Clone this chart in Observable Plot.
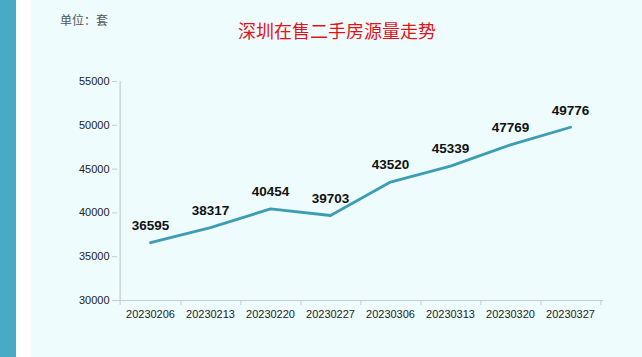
<!DOCTYPE html>
<html><head><meta charset="utf-8">
<script src="https://cdn.jsdelivr.net/npm/d3@7"></script>
<script src="https://cdn.jsdelivr.net/npm/@observablehq/plot@0.6"></script>
<style>
body{margin:0;width:642px;height:357px;overflow:hidden;background:#effcfd;position:relative;font-family:"Liberation Sans",Arial,sans-serif}
#bar{position:absolute;left:0;top:0;width:16px;height:357px;background:#48abc6}
#strip{position:absolute;left:16px;top:0;width:15px;height:357px;background:#ffffff}
#unit{position:absolute;left:60px;top:11px;font-size:12px;font-family:"Noto Sans CJK SC",sans-serif;color:#555}
#title{position:absolute;left:238px;top:17px;font-size:18px;font-family:"Noto Sans CJK SC",sans-serif;color:#e3131b;white-space:nowrap}
#chart{position:absolute;left:0;top:50px}
</style></head>
<body>
<div id="bar"></div><div id="strip"></div>
<div id="unit">单位：套</div>
<div id="title">深圳在售二手房源量走势</div>
<div id="chart"></div>
<script>
const categories = ["20230206","20230213","20230220","20230227","20230306","20230313","20230320","20230327"];
const values = [36595, 38317, 40454, 39703, 43520, 45339, 47769, 49776];
const yTicks = [30000, 35000, 40000, 45000, 50000, 55000];
const data = categories.map((c, i) => ({date: c, value: values[i]}));

const W = 642, H = 307, mL = 117, mR = 39;
const step = (W - mL - mR) / categories.length;
const axisColor = "#c4cccc";

const chart = Plot.plot({
  width: W, height: H,
  marginLeft: mL, marginRight: mR, marginTop: 31, marginBottom: 57,
  style: {background: "transparent", fontFamily: "'Liberation Sans', Arial, sans-serif", fontSize: "11px", color: "#222"},
  x: {type: "point", domain: categories, padding: 0.5, label: null},
  y: {domain: [30000, 55000], label: null},
  marks: [
    Plot.ruleY([30000], {stroke: axisColor, strokeWidth: 1.2}),
    Plot.ruleX([categories[0]], {dx: -step / 2, stroke: axisColor, strokeWidth: 1.2}),
    Plot.axisY({ticks: yTicks, tickSize: 5, tickPadding: 3, stroke: axisColor, tickFormat: d => String(d), fill: "#222"}),
    Plot.axisX({tickSize: 0, tickPadding: 10, fill: "#222"}),
    Plot.axisX(categories, {tickSize: 5, text: null, dx: step / 2, stroke: axisColor}),
    Plot.axisX([categories[0]], {tickSize: 5, text: null, dx: -step / 2, stroke: axisColor}),
    Plot.line(data, {x: "date", y: "value", stroke: "#3c9db3", strokeWidth: 2.8}),
    Plot.text(data, {x: "date", y: "value", text: d => String(d.value), dy: -17, fontWeight: "bold", fontSize: 13.5, fill: "#111"})
  ]
});
document.getElementById("chart").appendChild(chart);
</script>
</body></html>
